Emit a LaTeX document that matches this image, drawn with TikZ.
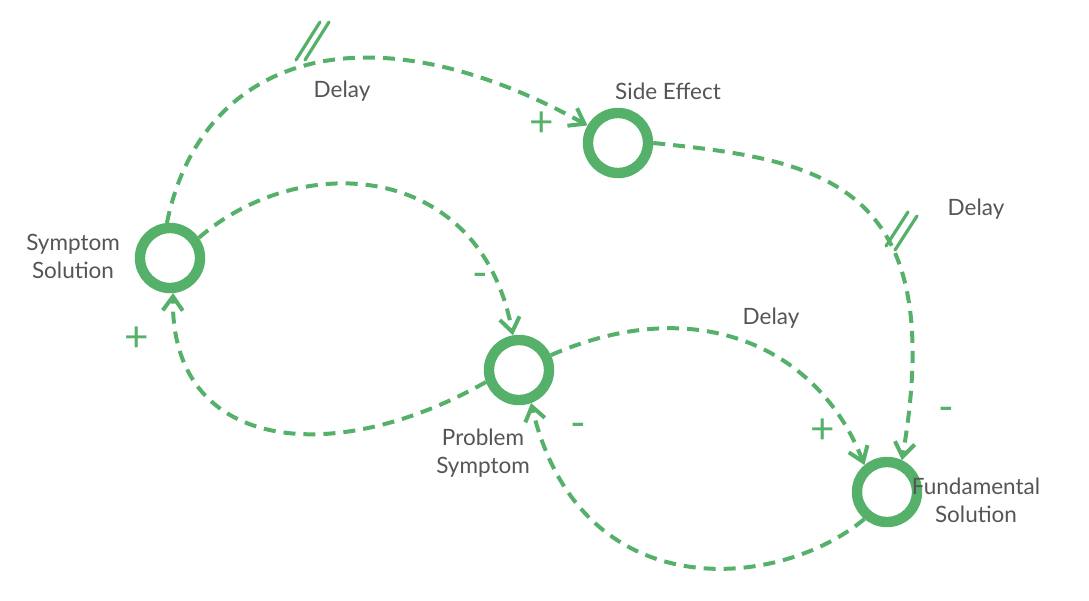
\documentclass[tikz,border=0pt]{standalone}
\usepackage{fontspec}
\setmainfont{Lato}
\usetikzlibrary{arrows.meta}
\definecolor{loopgreen}{HTML}{55B06A}
\definecolor{labelgray}{HTML}{555555}
\tikzset{
	var/.style={circle, draw=loopgreen, line width=2.6mm, minimum size=15mm, inner sep=0pt},
	link/.style={draw=loopgreen, line width=1mm, dash pattern=on 3mm off 2mm, -{Straight Barb[length=3.5mm,width=5mm,line width=1mm]}},
	delaymark/.style={draw=loopgreen, line width=0.8mm, line cap=round},
	txt/.style={text=labelgray, font=\fontsize{16}{20}\selectfont, align=center},
	sign/.style={text=loopgreen, font=\fontsize{30}{30}\selectfont}
}
\begin{document}
\begin{tikzpicture}[x=0.025cm, y=-0.025cm]
	\useasboundingbox (0,0) rectangle (1089,600);

	\node[var] (ss) at (170, 258) {};
	\node[var] (se) at (618, 143) {};
	\node[var] (ps) at (519, 370) {};
	\node[var] (fs) at (887, 492) {};

	\node[txt] (ssl) at (73, 256) {Symptom\\Solution};
	\node[txt] (sel) at (668, 91) {Side Effect};
	\node[txt] (psl) at (483, 453) {Problem\\Symptom};
	\node[txt] (fsl) at (976, 500) {Fundamental\\Solution};

	\draw[link] (ss.95) .. controls (200, 60) and (360, 0) .. (se.150);
	\draw[link] (se.0) .. controls (820, 160) and (950, 180) .. (fs.65);
	\draw[link] (ss.35) .. controls (300, 150) and (480, 160) .. (ps.100);
	\draw[link] (ps.200) .. controls (330, 470) and (170, 450) .. (ss.275);
	\draw[link] (ps.25) .. controls (700, 290) and (820, 350) .. (fs.130);
	\draw[link] (fs.230) .. controls (780, 590) and (580, 610) .. (ps.290);

	% delays
	\draw[delaymark] (296, 60) -- (320, 22);
	\draw[delaymark] (305, 60) -- (329, 22);
	\draw[delaymark] (886, 246) -- (908, 212);
	\draw[delaymark] (895, 250) -- (917, 216);
	\node[txt] (d1) at (342, 91) {Delay};
	\node[txt] (d2) at (976, 209) {Delay};
	\node[txt] (d3) at (771, 318) {Delay};

	\node[sign] (s1) at (542, 124) {+};
	\node[sign] (s2) at (137, 339) {+};
	\node[sign] (s3) at (823, 431) {+};
	\node[sign] (s4) at (480, 280) {-};
	\node[sign] (s5) at (578, 430) {-};
	\node[sign] (s6) at (946, 414) {-};
\end{tikzpicture}
\end{document}
